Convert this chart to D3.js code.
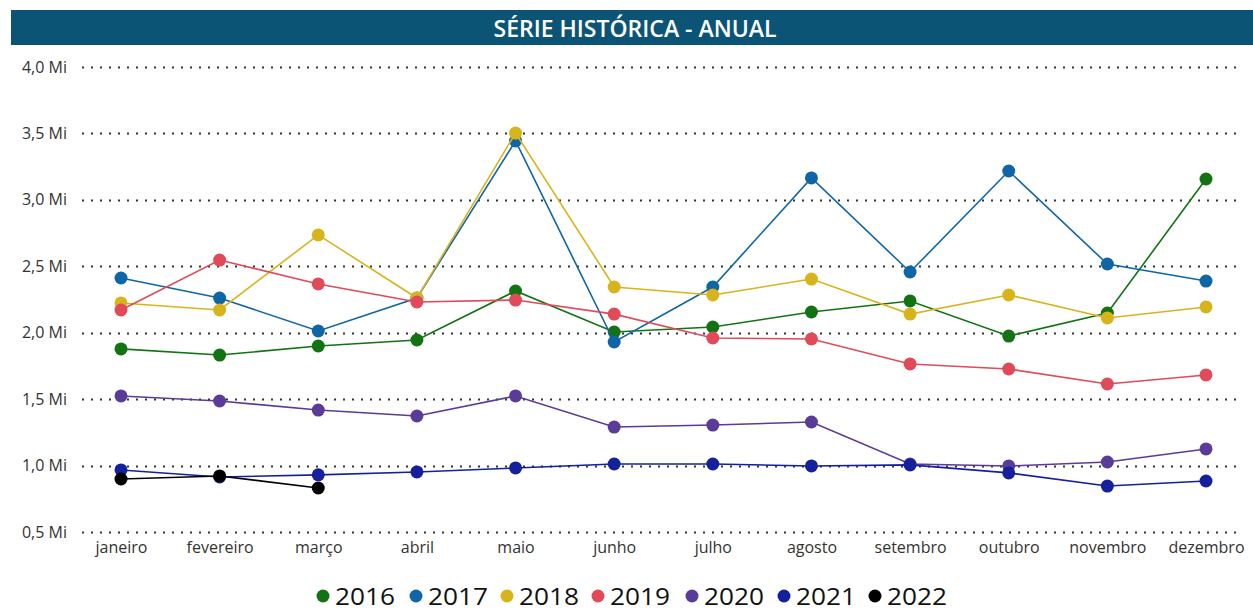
<!DOCTYPE html>
<html><head><meta charset="utf-8">
<script src="https://cdn.jsdelivr.net/npm/d3@7/dist/d3.min.js"></script>
<style>html,body{margin:0;padding:0;background:#fff;}svg{display:block;}</style>
</head><body><svg id="c" width="1253" height="611"></svg>
<script>
const months = ["janeiro","fevereiro","março","abril","maio","junho","julho","agosto","setembro","outubro","novembro","dezembro"];
const years = ["2016","2017","2018","2019","2020","2021","2022"];
const colors = ["#127312","#0e66a6","#d8b41c","#e04a59","#5a3b98","#14209c","#000000"];
const yTicks = [0.5,1.0,1.5,2.0,2.5,3.0,3.5,4.0];
const v2016 = [1.878,1.832,1.900,1.945,2.314,2.005,2.043,2.156,2.239,1.975,2.148,3.157];
const v2017 = [2.412,2.261,2.013,2.261,3.443,1.930,2.344,3.165,2.457,3.217,2.517,2.389];
const v2018 = [2.224,2.171,2.736,2.261,3.503,2.344,2.284,2.404,2.140,2.284,2.111,2.194];
const v2019 = [2.171,2.547,2.367,2.231,2.246,2.140,1.960,1.953,1.765,1.727,1.614,1.682];
const v2020 = [1.524,1.486,1.418,1.373,1.524,1.290,1.305,1.328,1.012,0.997,1.027,1.125];
const v2021 = [0.967,0.914,0.930,0.952,0.982,1.012,1.012,0.997,1.005,0.945,0.846,0.884];
const v2022 = [0.899,0.922,0.831];
const seriesValues = [v2016,v2017,v2018,v2019,v2020,v2021,v2022];
const title = "SÉRIE HISTÓRICA - ANUAL";

const svg = d3.select("#c");
const font = "'Open Sans', 'Noto Sans', sans-serif";

// title bar
svg.append("rect").attr("x",11).attr("y",10).attr("width",1242).attr("height",35).attr("fill","#0b5476");
svg.append("text").attr("x",635).attr("y",28).attr("text-anchor","middle").attr("dominant-baseline","central")
  .attr("fill","#fff").attr("font-family",font).attr("font-weight",600).attr("font-size",23).text(title);

const x = d3.scalePoint().domain(months).range([121,1206]);
const y = d3.scaleLinear().domain([0.5,4.0]).range([532,67]);

// grid
const gGrid = svg.append("g");
gGrid.selectAll("line").data(yTicks).join("line")
  .attr("x1",82).attr("x2",1240).attr("y1",d=>Math.round(y(d))+0.5).attr("y2",d=>Math.round(y(d))+0.5)
  .attr("stroke","#333").attr("stroke-width",2).attr("stroke-dasharray","2,7");

// y axis labels
const yAxis = d3.axisLeft(y).tickValues(yTicks).tickSize(0).tickPadding(0)
  .tickFormat(d=>d3.format(".1f")(d).replace(".",",")+" Mi");
const gy = svg.append("g").attr("transform","translate(67,0)").call(yAxis);
gy.select(".domain").remove();
gy.selectAll("text").attr("font-family",font).attr("font-size",16).attr("fill","#333");

// x axis labels
const xAxis = d3.axisBottom(x).tickSize(0).tickPadding(0);
const gx = svg.append("g").attr("transform","translate(0,542)").call(xAxis);
gx.select(".domain").remove();
gx.selectAll("text").attr("font-family",font).attr("font-size",16).attr("fill","#333");

// lines
const line = d3.line().x((d,i)=>x(months[i])).y(d=>y(d));
seriesValues.forEach((vals,k)=>{
  const g = svg.append("g");
  g.append("path").datum(vals).attr("d",line).attr("fill","none")
    .attr("stroke",colors[k]).attr("stroke-width",1.6);
  g.selectAll("circle").data(vals).join("circle")
    .attr("cx",(d,i)=>x(months[i])).attr("cy",d=>y(d)).attr("r",6.5).attr("fill",colors[k]);
});

// legend
const legX = [323,416,507,598,692,784,875];
const leg = svg.append("g");
years.forEach((yr,k)=>{
  leg.append("circle").attr("cx",legX[k]).attr("cy",596).attr("r",6.5).attr("fill",colors[k]);
  leg.append("text").attr("x",legX[k]+12).attr("y",595).attr("dominant-baseline","central")
    .attr("font-family",font).attr("font-size",24).attr("fill","#111")
    .attr("textLength",60).attr("lengthAdjust","spacingAndGlyphs").text(yr);
});
</script></body></html>
